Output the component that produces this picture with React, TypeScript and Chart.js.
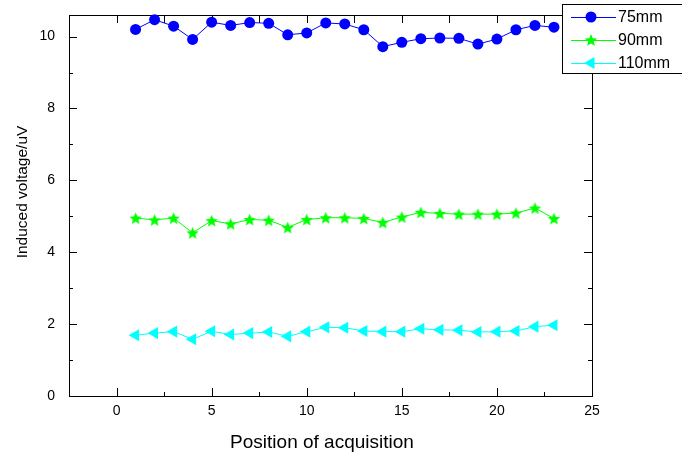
import React, { useEffect, useRef } from 'react';
import { Chart, registerables } from 'chart.js';

Chart.register(...registerables);

const positions = [1, 2, 3, 4, 5, 6, 7, 8, 9, 10, 11, 12, 13, 14, 15, 16, 17, 18, 19, 20, 21, 22, 23];
const series75 = [10.2, 10.47, 10.29, 9.92, 10.4, 10.31, 10.39, 10.37, 10.05, 10.1, 10.38, 10.35, 10.19, 9.72, 9.84, 9.94, 9.96, 9.95, 9.79, 9.93, 10.19, 10.31, 10.26];
const series90 = [4.95, 4.9, 4.95, 4.54, 4.88, 4.79, 4.91, 4.89, 4.69, 4.91, 4.96, 4.96, 4.94, 4.83, 4.98, 5.11, 5.08, 5.06, 5.06, 5.06, 5.09, 5.23, 4.94];
const series110 = [1.69, 1.75, 1.79, 1.58, 1.8, 1.71, 1.75, 1.78, 1.66, 1.79, 1.91, 1.9, 1.81, 1.79, 1.79, 1.87, 1.84, 1.83, 1.78, 1.79, 1.81, 1.93, 1.97];
const seriesLabels = ['75mm', '90mm', '110mm'];
const seriesColors = ['#0000ff', '#00ff00', '#00ffff'];
const xTickValues = [0, 5, 10, 15, 20, 25];
const xMinorValues = [-2.5, 2.5, 7.5, 12.5, 17.5, 22.5];
const yTickValues = [0, 2, 4, 6, 8, 10];
const yMinorValues = [1, 3, 5, 7, 9];
const xTitle = 'Position of acquisition';
const yTitle = 'Induced voltage/uV';

const FONT = "'Liberation Sans', Arial, sans-serif";

function starPath(ctx: CanvasRenderingContext2D, cx: number, cy: number, ro: number, ri: number) {
  ctx.beginPath();
  for (let i = 0; i < 10; i++) {
    const r = i % 2 === 0 ? ro : ri;
    const a = -Math.PI / 2 + (i * Math.PI) / 5;
    const x = cx + r * Math.cos(a);
    const y = cy + r * Math.sin(a);
    if (i === 0) ctx.moveTo(x, y);
    else ctx.lineTo(x, y);
  }
  ctx.closePath();
}

function makeStar(r: number, color: string) {
  const c = document.createElement('canvas');
  const s = Math.ceil(r * 2 + 2);
  c.width = s;
  c.height = s;
  const ctx = c.getContext('2d')!;
  starPath(ctx, s / 2, s / 2 + r * 0.1, r, r * 0.45);
  ctx.fillStyle = color;
  ctx.fill();
  return c;
}

const framePlugin = {
  id: 'frameTicks',
  beforeDatasetsDraw(chart: any) {
    const { ctx, chartArea } = chart;
    const { left, right, top, bottom } = chartArea;
    const xs = chart.scales.x;
    const ys = chart.scales.y;
    ctx.save();
    ctx.strokeStyle = '#000';
    ctx.lineWidth = 1;
    ctx.beginPath();
    const L = 8;
    const M = 4;
    const tickX = (v: number, len: number, topLen: number) => {
      const px = Math.round(xs.getPixelForValue(v)) + 0.5;
      ctx.moveTo(px, bottom);
      ctx.lineTo(px, bottom - len);
      ctx.moveTo(px, top);
      ctx.lineTo(px, top + topLen);
    };
    xTickValues.forEach((v) => tickX(v, L, L));
    xMinorValues.forEach((v) => tickX(v, M, L));
    const tickY = (v: number, len: number) => {
      const py = Math.round(ys.getPixelForValue(v)) + 0.5;
      ctx.moveTo(left, py);
      ctx.lineTo(left + len, py);
      ctx.moveTo(right, py);
      ctx.lineTo(right - len, py);
    };
    yTickValues.forEach((v) => tickY(v, L));
    yMinorValues.forEach((v) => tickY(v, M));
    ctx.stroke();
    ctx.strokeRect(Math.round(left) + 0.5, Math.round(top) + 0.5, Math.round(right - left), Math.round(bottom - top));

    // axis titles
    ctx.fillStyle = '#000';
    ctx.textAlign = 'center';
    ctx.textBaseline = 'alphabetic';
    ctx.font = `19px ${FONT}`;
    ctx.fillText(xTitle, 322, 448);
    ctx.save();
    ctx.translate(27, 192);
    ctx.rotate(-Math.PI / 2);
    ctx.font = `15.5px ${FONT}`;
    ctx.fillText(yTitle, 0, 0);
    ctx.restore();
    ctx.restore();
  },
  afterDraw(chart: any) {
    const { ctx } = chart;
    ctx.save();
    const bx = 562.5;
    const by = 4.5;
    ctx.fillStyle = '#fff';
    ctx.fillRect(bx, by, 140, 69);
    ctx.strokeStyle = '#000';
    ctx.lineWidth = 1;
    ctx.strokeRect(bx, by, 140, 69);
    const rows = [17, 40, 63];
    const mx = 591;
    rows.forEach((ry, i) => {
      const color = seriesColors[i];
      ctx.strokeStyle = color;
      ctx.lineWidth = 1;
      ctx.beginPath();
      ctx.moveTo(571, ry + 0.5);
      ctx.lineTo(616, ry + 0.5);
      ctx.stroke();
      ctx.fillStyle = color;
      if (i === 0) {
        ctx.beginPath();
        ctx.arc(mx, ry, 5.5, 0, Math.PI * 2);
        ctx.fill();
      } else if (i === 1) {
        starPath(ctx, mx, ry + 0.6, 6.5, 6.5 * 0.45);
        ctx.fill();
      } else {
        const r = 7;
        ctx.beginPath();
        ctx.moveTo(mx - r, ry);
        ctx.lineTo(mx + r * 0.5, ry - r * 0.866);
        ctx.lineTo(mx + r * 0.5, ry + r * 0.866);
        ctx.closePath();
        ctx.fill();
      }
      ctx.fillStyle = '#000';
      ctx.font = `16px ${FONT}`;
      ctx.textBaseline = 'middle';
      ctx.textAlign = 'left';
      ctx.fillText(seriesLabels[i], 618, ry + 1);
    });
    ctx.restore();
  },
};

export default function App() {
  const ref = useRef<HTMLCanvasElement | null>(null);
  useEffect(() => {
    const canvas = ref.current;
    if (!canvas) return;
    const star = makeStar(6.5, seriesColors[1]);
    const mk = (vals: number[]) => positions.map((x, i) => ({ x, y: vals[i] }));
    const chart = new Chart(canvas, {
      type: 'line',
      data: {
        datasets: [
          {
            label: seriesLabels[0],
            data: mk(series75),
            borderColor: seriesColors[0],
            backgroundColor: seriesColors[0],
            borderWidth: 1,
            pointStyle: 'circle',
            pointRadius: 5.5,
            pointBorderWidth: 0,
            clip: false,
          },
          {
            label: seriesLabels[1],
            data: mk(series90),
            borderColor: seriesColors[1],
            backgroundColor: seriesColors[1],
            borderWidth: 1,
            pointStyle: star as any,
            pointRadius: 6.5,
            pointBorderWidth: 0,
            clip: false,
          },
          {
            label: seriesLabels[2],
            data: mk(series110),
            borderColor: seriesColors[2],
            backgroundColor: seriesColors[2],
            borderWidth: 1,
            pointStyle: 'triangle',
            pointRotation: 270,
            pointRadius: 7,
            pointBorderWidth: 0,
            clip: false,
          },
        ],
      },
      options: {
        responsive: false,
        animation: false,
        events: [],
        layout: { padding: { left: 0, top: 15, right: 90, bottom: 0 } },
        plugins: { legend: { display: false }, tooltip: { enabled: false } },
        scales: {
          x: {
            type: 'linear',
            min: -2.5,
            max: 25,
            grid: { display: false, drawTicks: false },
            border: { display: false },
            afterBuildTicks: (scale: any) => {
              scale.ticks = xTickValues.map((v) => ({ value: v }));
            },
            afterFit: (scale: any) => {
              scale.height = 60;
              scale.paddingLeft = 0;
              scale.paddingRight = 0;
              scale.paddingTop = 0;
              scale.paddingBottom = 0;
            },
            ticks: {
              padding: 7,
              color: '#000',
              font: { family: FONT, size: 14 },
              maxRotation: 0,
              autoSkip: false,
            },
          },
          y: {
            type: 'linear',
            min: 0,
            max: 10.6,
            grid: { display: false, drawTicks: false },
            border: { display: false },
            afterBuildTicks: (scale: any) => {
              scale.ticks = yTickValues.map((v) => ({ value: v }));
            },
            afterFit: (scale: any) => {
              scale.width = 69;
              scale.paddingLeft = 0;
              scale.paddingRight = 0;
              scale.paddingTop = 0;
              scale.paddingBottom = 0;
            },
            ticks: {
              padding: 14,
              color: '#000',
              font: { family: FONT, size: 14 },
              autoSkip: false,
            },
          },
        },
      },
      plugins: [framePlugin],
    });
    return () => chart.destroy();
  }, []);
  return (
    <div style={{ position: 'absolute', left: 0, top: 0, width: 682, height: 456, background: '#fff' }}>
      <canvas ref={ref} width={682} height={456} style={{ display: 'block' }} />
    </div>
  );
}
